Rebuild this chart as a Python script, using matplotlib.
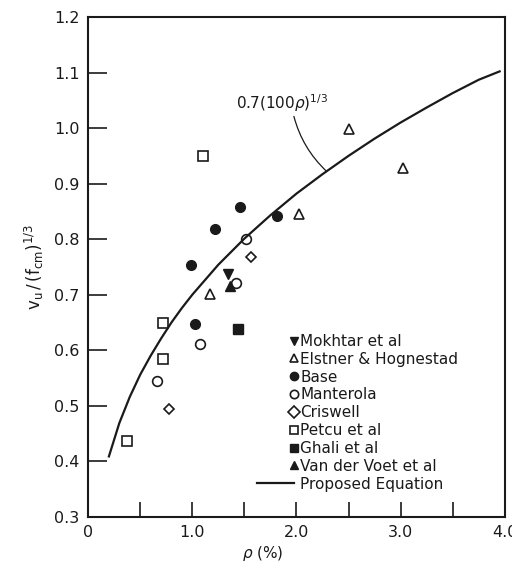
import matplotlib
matplotlib.use("Agg")
import matplotlib.pyplot as plt

# proposed equation
curve_x = [0.2, 0.3, 0.4, 0.5, 0.6, 0.7, 0.8, 0.9, 1.0, 1.25, 1.5, 1.75, 2.0, 2.25, 2.5,
           2.75, 3.0, 3.25, 3.5, 3.75, 3.95]
curve_y = [0.409, 0.469, 0.516, 0.556, 0.590, 0.621, 0.650, 0.676, 0.700, 0.754, 0.801, 0.843,
           0.882, 0.917, 0.950, 0.981, 1.010, 1.037, 1.063, 1.087, 1.102]

mokhtar_x = [1.34]
mokhtar_y = [0.737]
elstner_x = [1.17, 2.02, 2.50, 3.02]
elstner_y = [0.702, 0.846, 0.999, 0.929]
base_x = [0.99, 1.03, 1.22, 1.46, 1.81]
base_y = [0.753, 0.647, 0.819, 0.858, 0.841]
manterola_x = [0.66, 1.07, 1.42, 1.52]
manterola_y = [0.545, 0.612, 0.721, 0.801]
criswell_x = [0.78, 1.56]
criswell_y = [0.494, 0.768]
petcu_x = [0.37, 0.72, 0.72, 1.10]
petcu_y = [0.437, 0.584, 0.649, 0.949]
ghali_x = [1.44]
ghali_y = [0.639]
voet_x = [1.36]
voet_y = [0.716]

ink = "#1a1a1a"
plt.rcParams['font.family'] = ['DejaVu Sans']

fig = plt.figure(figsize=(5.12, 5.65), dpi=100)
ax = fig.add_axes([0.172, 0.085, 0.814, 0.885])

ms = 7
ax.plot(mokhtar_x, mokhtar_y, 'v', color=ink, ms=ms, ls='none', label='Mokhtar et al')
ax.plot(elstner_x, elstner_y, '^', mfc='white', mec=ink, mew=1.2, ms=ms, ls='none', label='Elstner & Hognestad')
ax.plot(base_x, base_y, 'o', color=ink, ms=ms, ls='none', label='Base')
ax.plot(manterola_x, manterola_y, 'o', mfc='white', mec=ink, mew=1.2, ms=ms, ls='none', label='Manterola')
ax.plot(criswell_x, criswell_y, 'D', mfc='white', mec=ink, mew=1.2, ms=5.5, ls='none', label='Criswell')
ax.plot(petcu_x, petcu_y, 's', mfc='white', mec=ink, mew=1.2, ms=6.5, ls='none', label='Petcu et al')
ax.plot(ghali_x, ghali_y, 's', color=ink, ms=6.5, ls='none', label='Ghali et al')
ax.plot(voet_x, voet_y, '^', color=ink, ms=ms, ls='none', label='Van der Voet et al')
ax.plot(curve_x, curve_y, '-', color=ink, lw=1.6, label='Proposed Equation')

ax.annotate(r"0.7(100$\rho$)$^{1/3}$", xy=(2.29, 0.922), xytext=(1.42, 1.035),
            fontsize=11, color=ink,
            arrowprops=dict(arrowstyle='-', color=ink, lw=0.9,
                            connectionstyle='arc3,rad=0.15',
                            shrinkA=0, shrinkB=0,
                            relpos=(0.62, 0.0)))

ax.set_xlim(0, 4.0)
ax.set_ylim(0.3, 1.2)
ax.set_xticks([0, 0.5, 1.0, 1.5, 2.0, 2.5, 3.0, 3.5, 4.0])
ax.set_xticklabels(['0', '', '1.0', '', '2.0', '', '3.0', '', '4.0'])
ax.set_yticks([0.3, 0.4, 0.5, 0.6, 0.7, 0.8, 0.9, 1.0, 1.1, 1.2])
ax.set_yticklabels(['0.3', '0.4', '0.5', '0.6', '0.7', '0.8', '0.9', '1.0', '1.1', '1.2'])
ax.tick_params(axis='x', direction='in', length=11, width=1.2, labelsize=11.5, colors=ink, pad=6)
ax.tick_params(axis='y', direction='in', length=14, width=1.2, labelsize=11.5, colors=ink, pad=6)
for s in ax.spines.values():
    s.set_linewidth(1.5)
    s.set_color(ink)

ax.set_xlabel(r"$\rho$ (%)", fontsize=11, color=ink)
ax.xaxis.set_label_coords(0.42, -0.055)
ax.set_ylabel(r"$\mathrm{v_u\,/\,(f_{cm})^{1/3}}$", fontsize=12, color=ink)
ax.yaxis.set_label_coords(-0.1, 0.5)

leg = ax.legend(loc='upper left', bbox_to_anchor=(0.405, 0.366), frameon=False,
                fontsize=11, handlelength=2.4, handletextpad=0.45,
                labelspacing=0.185, borderaxespad=0, borderpad=0)
# markers sit at the right end of the handle, next to the text
for h in leg.legend_handles[:-1]:
    h.set_markersize(6)
    h.set_markevery([2])
for t in leg.get_texts():
    t.set_color(ink)

fig.savefig("out.png", dpi=100)
